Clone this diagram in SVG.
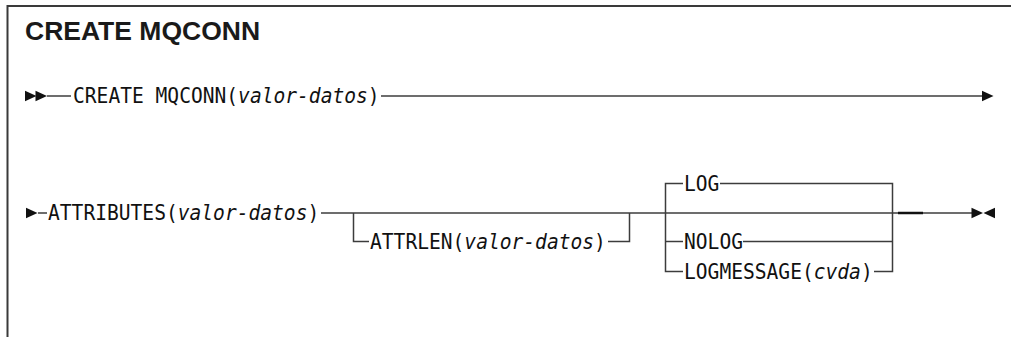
<svg xmlns="http://www.w3.org/2000/svg" xmlns:xlink="http://www.w3.org/1999/xlink" width="1011" height="337" viewBox="0 0 1011 337">
  <style>
    .frame { fill: none; stroke: #3a3a3a; stroke-width: 2; }
    .rail { fill: none; stroke: #3c3c3c; stroke-width: 1.5; }
    .thick { fill: none; stroke: #111; stroke-width: 2.5; }
    .title { font-family: "Liberation Sans", Arial, sans-serif; font-weight: bold; font-size: 26.5px; fill: #1a1a1a; }
    .kw { font-family: "DejaVu Sans Mono", "Liberation Mono", monospace; font-size: 19.6px; fill: #111; }
    .var { font-style: italic; }
    .tip { fill: #111; }
  </style>
  <defs>
    <path id="arrowR" class="tip" d="M0,-5.3 L11.5,0 L0,5.3 Z"/>
    <path id="arrowL" class="tip" d="M0,-5.3 L-11.5,0 L0,5.3 Z"/>
  </defs>

  <!-- outer frame -->
  <path class="frame" d="M1011,6 H7.5 V337"/>

  <text class="title" x="25" y="40">CREATE MQCONN</text>

  <!-- rails and branch lines -->
  <g id="connectors">
    <!-- first statement line -->
    <path class="rail" d="M47,96 H71"/>
    <path class="rail" d="M381,96 H982"/>
    <!-- second statement line -->
    <path class="rail" d="M38,213 H47"/>
    <path class="rail" d="M321,213 H972"/>
    <!-- optional ATTRLEN branch -->
    <path class="rail" d="M353.5,213 V241.5 H369"/>
    <path class="rail" d="M608,241.5 H629.5 V213"/>
    <!-- LOG / NOLOG / LOGMESSAGE choice -->
    <path class="rail" d="M683,183.5 H665.5 V271.5 H683"/>
    <path class="rail" d="M665.5,241.5 H683"/>
    <path class="rail" d="M720,183.5 H892.5 V271.5 H874"/>
    <path class="rail" d="M743,241.5 H892.5"/>
    <path class="thick" d="M898,213 H923"/>
    <!-- start and end markers -->
    <use xlink:href="#arrowR" x="25" y="96"/>
    <use xlink:href="#arrowR" x="35.5" y="96"/>
    <use xlink:href="#arrowR" x="982" y="96"/>
    <use xlink:href="#arrowR" x="26" y="213"/>
    <use xlink:href="#arrowR" x="971.5" y="213"/>
    <use xlink:href="#arrowL" x="995" y="213"/>
  </g>

  <!-- keyword text is stretched vertically to the tall, narrow syntax face -->
  <g id="create-mqconn">
    <text class="kw" transform="matrix(1,0,0,1.12,73,103)">CREATE MQCONN(<tspan class="var">valor-datos</tspan>)</text>
  </g>
  <g id="attributes">
    <text class="kw" transform="matrix(1,0,0,1.12,48,220)">ATTRIBUTES(<tspan class="var">valor-datos</tspan>)</text>
  </g>
  <g id="attrlen">
    <text class="kw" transform="matrix(1,0,0,1.12,370,248.5)">ATTRLEN(<tspan class="var">valor-datos</tspan>)</text>
  </g>
  <g id="log">
    <text class="kw" transform="matrix(1,0,0,1.12,684,190.5)">LOG</text>
  </g>
  <g id="nolog">
    <text class="kw" transform="matrix(1,0,0,1.12,684,248.5)">NOLOG</text>
  </g>
  <g id="logmessage">
    <text class="kw" transform="matrix(1,0,0,1.12,684,278.5)">LOGMESSAGE(<tspan class="var">cvda</tspan>)</text>
  </g>
</svg>
